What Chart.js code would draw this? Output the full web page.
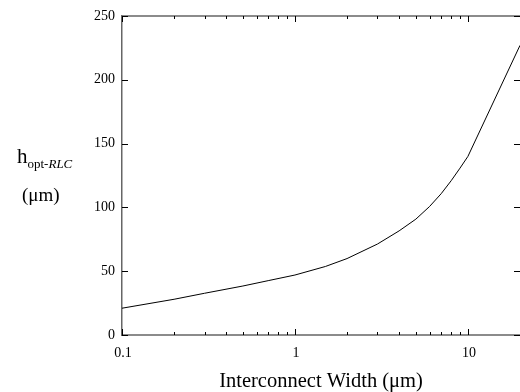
<!DOCTYPE html>
<html>
<head>
<meta charset="utf-8">
<script src="https://cdn.jsdelivr.net/npm/chart.js@4"></script>
<style>
  html, body { margin: 0; padding: 0; background: #fff; overflow: hidden; }
  #wrap { width: 520px; height: 392px; }
</style>
</head>
<body>
<div id="wrap"><canvas id="chart" width="520" height="392"></canvas></div>
<script>
// interconnect width (um) and optimal repeater size h_opt-RLC (um)
const widths = [0.1, 0.2, 0.3, 0.5, 0.7, 1, 1.5, 2, 3, 4, 5, 6, 7, 8, 9, 10, 20];
const hOpt   = [21, 28, 32.7, 38.4, 42.6, 47, 53.7, 59.9, 71.3, 81.6, 90.8, 100.7, 110.7, 120.9, 130.8, 140, 227];
const yTicks = [0, 50, 100, 150, 200, 250];
const xLabels = [0.1, 1, 10];
const xMultiples = [1, 2, 3, 4, 5, 6, 7, 8, 9];
const xTitle = 'Interconnect Width (\u03bcm)';

const serif = '"Liberation Serif", "DejaVu Serif", serif';

// gnuplot-like frame: inward ticks, x axis labels and both axis titles
const framePlugin = {
    id: 'frame',
    afterDraw(chart) {
        const ctx = chart.ctx;
        const a = chart.chartArea;
        const xs = chart.scales.x, ys = chart.scales.y;
        ctx.save();

        // top and bottom border
        ctx.strokeStyle = '#666';
        ctx.lineWidth = 1.5;
        ctx.beginPath();
        ctx.moveTo(a.left, a.top); ctx.lineTo(a.right, a.top);
        ctx.moveTo(a.left, a.bottom); ctx.lineTo(a.right, a.bottom);
        ctx.stroke();

        ctx.strokeStyle = '#000';
        ctx.lineWidth = 1;
        ctx.beginPath();
        yTicks.forEach(v => {
            const y = Math.round(ys.getPixelForValue(v)) + 0.5;
            ctx.moveTo(a.left, y); ctx.lineTo(a.left + 6, y);
            ctx.moveTo(a.right, y); ctx.lineTo(a.right - 6, y);
        });
        xLabels.forEach(d => xMultiples.forEach(m => {
            const v = d * m;
            if (v > 10) return;
            const x = Math.round(xs.getPixelForValue(v)) + 0.5;
            const len = m === 1 ? 6 : 3;
            ctx.moveTo(x, a.bottom); ctx.lineTo(x, a.bottom - len);
            ctx.moveTo(x, a.top); ctx.lineTo(x, a.top + len);
        }));
        ctx.stroke();

        ctx.fillStyle = '#000';

        // x tick labels
        ctx.font = '14px ' + serif;
        ctx.textAlign = 'center';
        ctx.textBaseline = 'middle';
        xLabels.forEach(v => {
            ctx.fillText(String(v), xs.getPixelForValue(v) + 1, a.bottom + 18);
        });

        // x axis title
        ctx.font = '20.5px ' + serif;
        ctx.fillText(xTitle, (a.left + a.right) / 2, 381.5);

        // y axis title
        ctx.textBaseline = 'alphabetic';
        ctx.textAlign = 'left';
        ctx.font = '21px ' + serif;
        ctx.fillText('h', 17, 163);
        let x = 17 + ctx.measureText('h').width;
        ctx.font = '13px ' + serif;
        ctx.fillText('opt-', x, 168);
        x += ctx.measureText('opt-').width;
        ctx.font = 'italic 13px ' + serif;
        ctx.fillText('RLC', x, 168);
        ctx.font = '19px ' + serif;
        ctx.fillText('(\u03bcm)', 22, 201);
        ctx.restore();
    }
};

new Chart(document.getElementById('chart'), {
    type: 'line',
    data: {
        datasets: [{
            data: widths.map((w, i) => ({ x: w, y: hOpt[i] })),
            borderColor: '#000',
            borderWidth: 1,
            pointRadius: 0,
            tension: 0,
            fill: false
        }]
    },
    options: {
        responsive: false,
        animation: false,
        layout: { padding: { top: 16, right: 0, left: 0, bottom: 57 } },
        plugins: { legend: { display: false }, tooltip: { enabled: false } },
        scales: {
            x: {
                type: 'logarithmic',
                display: false,
                min: 0.1,
                max: 20
            },
            y: {
                min: 0,
                max: 250,
                grid: { display: false, drawTicks: false },
                border: { display: true, color: '#666', width: 1.5 },
                afterBuildTicks: s => { s.ticks = yTicks.map(v => ({ value: v })); },
                ticks: {
                    padding: 7,
                    color: '#000',
                    font: { family: serif, size: 14 }
                },
                afterFit: s => { s.width = 122; }
            }
        }
    },
    plugins: [framePlugin]
});
</script>
</body>
</html>
